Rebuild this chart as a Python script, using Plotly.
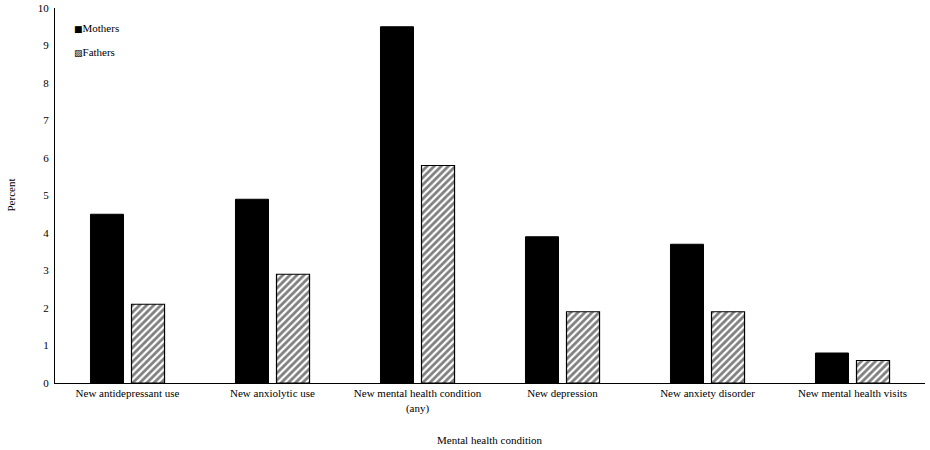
import plotly.graph_objects as go

conditions = [
    "New antidepressant use",
    "New anxiolytic use",
    "New mental health condition<br>(any)",
    "New depression",
    "New anxiety disorder",
    "New mental health visits",
]
mothers = [4.5, 4.9, 9.5, 3.9, 3.7, 0.8]
fathers = [2.1, 2.9, 5.8, 1.9, 1.9, 0.6]

fig = go.Figure()
fig.add_trace(go.Bar(
    x=conditions, y=mothers, name="Mothers",
    marker=dict(color="black", line=dict(color="black", width=1)),
))
fig.add_trace(go.Bar(
    x=conditions, y=fathers, name="Fathers",
    marker=dict(
        color="white",
        line=dict(color="black", width=1.2),
        pattern=dict(shape="/", fgcolor="black", bgcolor="white", size=5, solidity=0.55),
    ),
))

fig.update_layout(
    width=930, height=450,
    margin=dict(l=55, r=5, t=8, b=67, autoexpand=False),
    paper_bgcolor="white", plot_bgcolor="white",
    font=dict(family="Liberation Serif", size=11, color="black"),
    barmode="group", bargap=0.434, bargroupgap=0.195,
    showlegend=False,
    xaxis=dict(
        showline=True, linecolor="black", linewidth=1,
        showgrid=False, ticks="", tickangle=0, automargin=False,
    ),
    yaxis=dict(
        range=[0, 10], dtick=1, ticklabelstandoff=3,
        showline=True, linecolor="black", linewidth=1,
        showgrid=False, zeroline=False, ticks="", automargin=False,
    ),
    annotations=[
        dict(text="<span style='font-family:DejaVu Sans;font-size:9px'>■</span>Mothers",
             xref="paper", yref="paper", x=0.019, y=0.947,
             xanchor="left", yanchor="middle", showarrow=False, font=dict(size=11)),
        dict(text="<span style='font-family:DejaVu Sans;font-size:9px'>▨</span>Fathers",
             xref="paper", yref="paper", x=0.019, y=0.883,
             xanchor="left", yanchor="middle", showarrow=False, font=dict(size=11)),
        dict(text="Mental health condition", xref="paper", yref="paper",
             x=0.5, y=-0.152, xanchor="center", yanchor="middle",
             showarrow=False, font=dict(size=11)),
        dict(text="Percent", xref="paper", yref="paper",
             x=-0.0517, y=0.5, xanchor="center", yanchor="middle",
             textangle=-90, showarrow=False, font=dict(size=11)),
    ],
)

# drop the default 8px page margin so the figure fills the window
fig.write_html("out.html", config={"displayModeBar": False},
               post_script="document.body.style.margin='0';")
